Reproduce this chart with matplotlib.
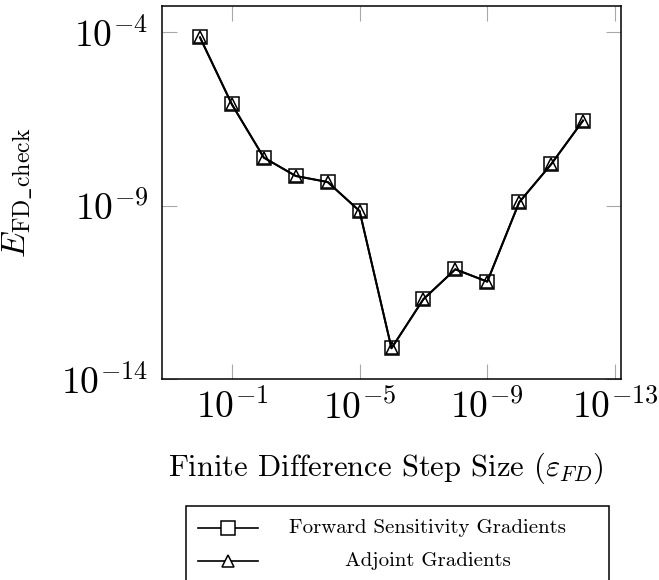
import matplotlib
matplotlib.use('Agg')
import matplotlib.pyplot as plt
from matplotlib.lines import Line2D
from matplotlib.patches import Rectangle
from matplotlib.ticker import FixedLocator, FixedFormatter, NullLocator

# ---------------- data ----------------
step_sizes = [1e0, 1e-1, 1e-2, 1e-3, 1e-4, 1e-5, 1e-6, 1e-7, 1e-8, 1e-9, 1e-10, 1e-11, 1e-12]
forward_err = [7.0e-5, 8.2e-7, 2.4e-8, 7.1e-9, 4.75e-9, 6.95e-10, 7.7e-14,
               2.0e-12, 1.45e-11, 6.4e-12, 1.24e-9, 1.54e-8, 2.8e-7]
adjoint_err = [7.0e-5, 8.2e-7, 2.4e-8, 7.1e-9, 4.75e-9, 6.95e-10, 7.7e-14,
               2.0e-12, 1.45e-11, 6.4e-12, 1.24e-9, 1.54e-8, 2.8e-7]
x_ticks = [1e-1, 1e-5, 1e-9, 1e-13]
x_tick_labels = [r'$10^{-1}$', r'$10^{-5}$', r'$10^{-9}$', r'$10^{-13}$']
y_ticks = [1e-4, 1e-9, 1e-14]
y_tick_labels = [r'$10^{-4}$', r'$10^{-9}$', r'$10^{-14}$']
series_names = ['Forward Sensitivity Gradients', 'Adjoint Gradients']

# ---------------- style ----------------
plt.rcParams['mathtext.fontset'] = 'cm'
plt.rcParams['font.family'] = ['cmr10', 'DejaVu Serif']
plt.rcParams['axes.unicode_minus'] = True

W, H = 659, 580
fig = plt.figure(figsize=(W / 100, H / 100), dpi=100)


def fx(x):
    return x / W


def fy(y):
    return 1 - y / H


AX_L, AX_R, AX_T, AX_B = 162, 621, 6, 379
ax = fig.add_axes([fx(AX_L), fy(AX_B), (AX_R - AX_L) / W, (AX_B - AX_T) / H])
ax.set_xscale('log')
ax.set_yscale('log')

ax.plot(step_sizes, forward_err, color='black', lw=1.4, marker='s', ms=10.5,
        mfc='none', mec='black', mew=1.1, zorder=3)
ax.plot(step_sizes, adjoint_err, color='black', lw=1.4, marker='^', ms=8.5,
        mfc='none', mec='black', mew=1.1, zorder=4)

ax.set_xlim(10 ** 1.19, 10 ** -13.19)
ax.set_ylim(1e-14, 10 ** -3.25)

ax.xaxis.set_major_locator(FixedLocator(x_ticks))
ax.xaxis.set_major_formatter(FixedFormatter(x_tick_labels))
ax.yaxis.set_major_locator(FixedLocator(y_ticks))
ax.yaxis.set_major_formatter(FixedFormatter(y_tick_labels))
ax.xaxis.set_minor_locator(NullLocator())
ax.yaxis.set_minor_locator(NullLocator())

ax.tick_params(which='major', direction='in', length=11, width=0.8,
               color='#a8a8a8', top=True, right=True, labelsize=27)
ax.tick_params(axis='x', pad=7)
ax.tick_params(axis='y', pad=10)
for sp in ax.spines.values():
    sp.set_linewidth(1.1)
    sp.set_color('black')

AXW, AXH = AX_R - AX_L, AX_B - AX_T
ax.set_xlabel(r'Finite Difference Step Size ($\varepsilon_{FD}$)', fontsize=22)
ax.xaxis.set_label_coords((385.5 - AX_L) / AXW, -(451 - AX_B) / AXH)
ax.set_ylabel(r'$E_{\mathrm{FD\_check}}$', fontsize=24.5)
ax.yaxis.set_label_coords((35 - AX_L) / AXW, 0.5)

# ---------------- legend (manual, centred text) ----------------
fig.add_artist(Rectangle((fx(186), fy(595)), (609 - 186) / W, (595 - 506) / H,
                         transform=fig.transFigure, facecolor='white',
                         edgecolor='black', lw=1.1))
rows_y = [528, 561]
markers = [('s', 10.5), ('^', 8.5)]
for name, yy, (mk, ms) in zip(series_names, rows_y, markers):
    fig.add_artist(Line2D([fx(198), fx(258)], [fy(yy), fy(yy)], transform=fig.transFigure,
                          color='black', lw=1.2))
    fig.add_artist(Line2D([fx(228)], [fy(yy)], transform=fig.transFigure,
                          marker=mk, ms=ms, mfc='white', mec='black', mew=1.1, lw=0))
    fig.text(fx(428), fy(yy), name, ha='center', va='center', fontsize=15)

fig.savefig('out.png', dpi=100)
